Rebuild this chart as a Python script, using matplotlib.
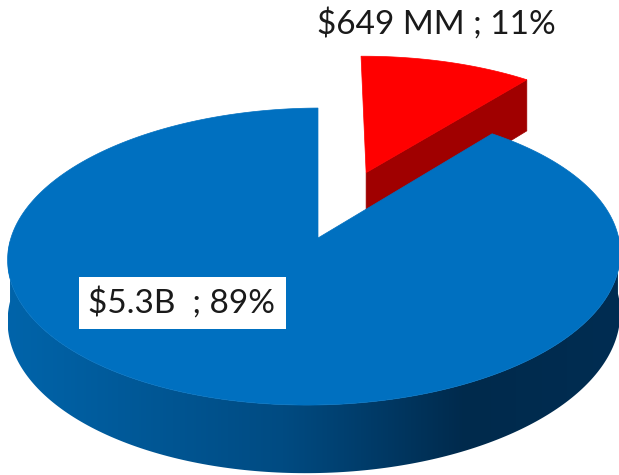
import numpy as np
import matplotlib
matplotlib.use("Agg")
import matplotlib.pyplot as plt
from matplotlib.patches import Polygon
from matplotlib.colors import LinearSegmentedColormap

# --- data ---
labels = ["$649 MM ; 11%", "$5.3B  ; 89%"]
values_bn = [0.649, 5.3]          # USD billions
top_colors = ["#ff0000", "#0070c0"]
side_colors = ["#a00000", None]   # blue side uses a gradient
explode = [0.5, 0.0]

# --- projection of the pie plane onto the picture (pixel space) ---
CX, CY = 318.0, 238.0
P11, P12, P21, P22 = 308.1, 39.6, 0.0, -116.5
P31, P32 = 0.0132, 0.1246
DEPTH = 59.6   # thickness of the pie, pixels before perspective
START = 90.0   # first slice starts at 12 o'clock, clockwise


def project(x, y, t=0.0):
    """x, y on unit pie plane, t = 0 top face, 1 bottom face."""
    w = P31 * x + P32 * y + 1.0
    sx = (P11 * x + P12 * y + CX) / w
    sy = (P21 * x + P22 * y + DEPTH * t + CY) / w
    return sx, sy


fig = plt.figure(figsize=(6.19, 4.75), dpi=100)
ax = fig.add_axes([0, 0, 1, 1])
ax.set_xlim(0, 619)
ax.set_ylim(475, 0)
ax.axis("off")

total = sum(values_bn)
shares = [v / total for v in values_bn]

# angles of each slice (degrees, counter clockwise maths convention)
bounds = []
a0 = START
for s in shares:
    a1 = a0 - s * 360.0
    bounds.append((a1, a0))
    a0 = a1

# ---- red slice (behind) ----
lo, hi = bounds[0]
mid = np.radians((lo + hi) / 2)
ox, oy = explode[0] * np.cos(mid), explode[0] * np.sin(mid)
th = np.radians(np.linspace(lo, hi, 60))
ex, ey = ox + np.cos(th[0]), oy + np.sin(th[0])
# radial face on the clockwise edge (faces the viewer)
face = [project(ox, oy, 0), project(ex, ey, 0), project(ex, ey, 1), project(ox, oy, 1)]
ax.add_patch(Polygon(face, closed=True, fc=side_colors[0], ec=side_colors[0], lw=0.5))
top = [project(ox, oy)] + [project(ox + np.cos(a), oy + np.sin(a)) for a in th]
ax.add_patch(Polygon(top, closed=True, fc=top_colors[0], ec=top_colors[0], lw=0.5))

# ---- blue slice ----
lo, hi = bounds[1]
front = np.radians(np.linspace(180, 360, 200))
upper = [project(np.cos(a), np.sin(a), 0) for a in front]
lower = [project(np.cos(a), np.sin(a), 1) for a in front[::-1]]
side = Polygon(upper + lower, closed=True, fc="none", ec="none")
ax.add_patch(side)
side_cmap = LinearSegmentedColormap.from_list(
    "side", [(0.0, "#0064aa"), (0.45, "#004b82"), (0.75, "#002a4c"), (1.0, "#002d52")])
grad = np.linspace(0, 1, 256).reshape(1, -1)
im = ax.imshow(grad, cmap=side_cmap, extent=(8, 619, 475, 230), aspect="auto", zorder=1)
im.set_clip_path(side)

th = np.radians(np.linspace(lo, hi, 400))
top = [project(0, 0)] + [project(np.cos(a), np.sin(a)) for a in th]
ax.add_patch(Polygon(top, closed=True, fc=top_colors[1], ec=top_colors[1], lw=0.5, zorder=2))

# ---- labels ----
ax.text(436, 24, labels[0], ha="center", va="center", fontsize=24,
        family="Lato", color="#1a1a1a", zorder=5)
ax.text(182, 303, labels[1], ha="center", va="center", fontsize=24,
        family="Lato", color="#1a1a1a", zorder=5,
        bbox=dict(boxstyle="square,pad=0.3", fc="white", ec="none"))

fig.savefig("out.png", dpi=100)
